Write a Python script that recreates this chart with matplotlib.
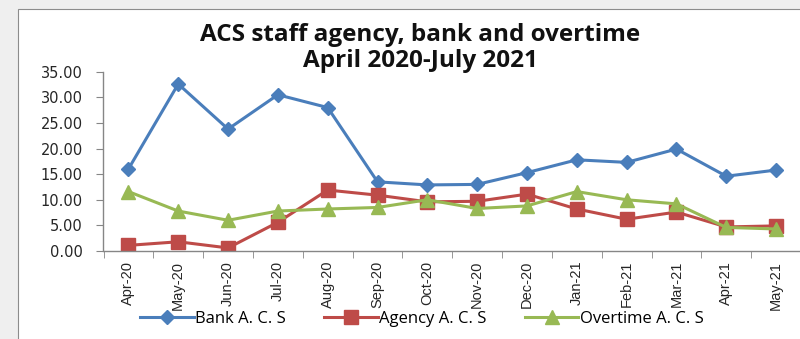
import matplotlib

matplotlib.use("Agg")
import matplotlib.pyplot as plt
from matplotlib.patches import Rectangle

months = ["Apr-20", "May-20", "Jun-20", "Jul-20", "Aug-20", "Sep-20", "Oct-20",
          "Nov-20", "Dec-20", "Jan-21", "Feb-21", "Mar-21", "Apr-21", "May-21"]
bank = [16.0, 32.6, 23.8, 30.5, 28.0, 13.5, 12.9, 13.0, 15.3, 17.8, 17.3, 19.9, 14.6, 15.8]
agency = [1.1, 1.8, 0.6, 5.6, 11.9, 10.9, 9.6, 9.7, 11.1, 8.2, 6.2, 7.6, 4.7, 4.9]
overtime = [11.6, 7.8, 6.0, 7.8, 8.2, 8.5, 10.0, 8.3, 8.8, 11.6, 10.0, 9.2, 4.6, 4.3]
yticks = [0, 5, 10, 15, 20, 25, 30, 35]

fig = plt.figure(figsize=(8, 3.39), dpi=100)
fig.patch.set_facecolor("#efefef")
# white chart area with thin border
fig.patches.append(Rectangle((17.5 / 800, -0.1), 1.0, 1.1 - 8.5 / 339,
                             transform=fig.transFigure, facecolor="white",
                             edgecolor="#8c8c8c", lw=0.8, zorder=-1))

ax = fig.add_axes([103.5 / 800, 1 - 251 / 339, (801 - 103.5) / 800, (251 - 71.7) / 339])
ax.set_facecolor("none")

x = list(range(len(months)))
ax.plot(x, bank, color="#4a7ebb", lw=2.2, marker="D", ms=7.5, label="Bank A. C. S")
ax.plot(x, agency, color="#be4b48", lw=2.2, marker="s", ms=9.5, label="Agency A. C. S")
ax.plot(x, overtime, color="#98b954", lw=2.2, marker="^", ms=10, label="Overtime A. C. S")

ax.set_xlim(-0.5, len(months) - 0.5)
ax.set_ylim(0, 35)
ax.set_yticks(yticks)
ax.set_yticklabels(["%.2f" % v for v in yticks], fontsize=10.5, family="DejaVu Sans",
                   color="#262626")
ax.set_xticks(x)
ax.set_xticklabels(months, rotation=90, fontsize=10.5,
                   family=["Liberation Sans Narrow", "Liberation Sans", "DejaVu Sans"], color="#262626")
ax.set_xticks([i - 0.5 for i in range(len(months) + 1)], minor=True)
ax.tick_params(axis="x", which="major", length=0, pad=7)
ax.tick_params(axis="x", which="minor", length=5, color="#868686", direction="out")
ax.tick_params(axis="y", length=5, color="#868686", direction="out", pad=10)
for side in ["top", "right"]:
    ax.spines[side].set_visible(False)
for side in ["left", "bottom"]:
    ax.spines[side].set_color("#868686")
    ax.spines[side].set_linewidth(1)

fig.text(420 / 800, 1 - 48 / 339, "ACS staff agency, bank and overtime\nApril 2020-July 2021",
         ha="center", va="center", fontsize=17.5, fontweight="bold", linespacing=1.08,
         family=["Open Sans", "DejaVu Sans"], color="#111111")

fig.legend(loc="center", bbox_to_anchor=(422 / 800, 1 - 319 / 339), ncol=3, frameon=False,
           handlelength=3.2, handletextpad=0.1, columnspacing=2.3,
           prop={"family": ["Open Sans", "DejaVu Sans"], "size": 12})

fig.savefig("out.png", dpi=100, facecolor=fig.get_facecolor())
plt.close(fig)
